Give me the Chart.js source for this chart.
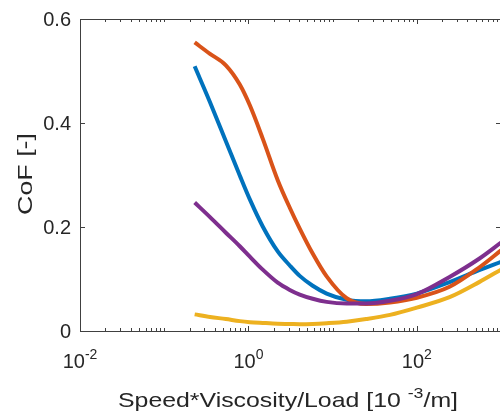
<!DOCTYPE html>
<html>
<head>
<meta charset="utf-8">
<script src="https://cdn.jsdelivr.net/npm/chart.js@4/dist/chart.umd.min.js"></script>
<style>
  html, body { margin: 0; padding: 0; background: #fff; overflow: hidden; }
  #plot { display: block; }
</style>
</head>
<body>
<canvas id="plot" width="503" height="417"></canvas>
<script>
// Speed*Viscosity/Load values
var xValues = [0.23, 0.35, 0.54, 0.79, 1.04, 1.48, 2.23, 3.1, 4.07, 5.8, 8.5, 14.7, 25, 48, 100, 245, 550, 1000];

// CoF for each curve
var cofBlue   = [0.509, 0.440, 0.365, 0.299, 0.253, 0.201, 0.153, 0.126, 0.106, 0.087, 0.072, 0.060, 0.057, 0.062, 0.072, 0.094, 0.117, 0.133];
var cofOrange = [0.555, 0.533, 0.511, 0.474, 0.434, 0.370, 0.290, 0.237, 0.197, 0.149, 0.105, 0.063, 0.052, 0.055, 0.064, 0.085, 0.122, 0.155];
var cofYellow = [0.032, 0.027, 0.023, 0.019, 0.017, 0.0155, 0.014, 0.0135, 0.013, 0.0135, 0.015, 0.018, 0.023, 0.031, 0.045, 0.065, 0.094, 0.118];
var cofPurple = [0.247, 0.219, 0.189, 0.163, 0.143, 0.118, 0.093, 0.079, 0.070, 0.062, 0.056, 0.053, 0.053, 0.058, 0.071, 0.104, 0.139, 0.170];

// axis ticks
var xMajorTicks = [0.01, 1, 100];
var xTickExponents = ['-2', '0', '2'];
var yTicks = [0, 0.2, 0.4, 0.6];
var yTickLabels = ['0', '0.2', '0.4', '0.6'];

var textColor = '#262626';
var axisColor = '#404040';
var fontFamily = '"Liberation Sans", Arial, Helvetica, sans-serif';

function toPoints(ys) {
    return xValues.map(function(x, i) { return { x: x, y: ys[i] }; });
}

function makeSet(label, ys, color, order) {
    return {
        label: label,
        data: toPoints(ys),
        borderColor: color,
        backgroundColor: color,
        borderWidth: 4,
        pointRadius: 0,
        cubicInterpolationMode: 'monotone',
        order: order
    };
}

// draws "10" with a superscript, centred on cx
function drawPower(ctx, base, sup, cx, baseline, size) {
    ctx.font = size + 'px ' + fontFamily;
    var wb = ctx.measureText(base).width;
    ctx.font = Math.round(size * 0.7) + 'px ' + fontFamily;
    var ws = ctx.measureText(sup).width;
    var left = cx - (wb + ws) / 2;
    ctx.textAlign = 'left';
    ctx.textBaseline = 'alphabetic';
    ctx.font = size + 'px ' + fontFamily;
    ctx.fillText(base, left, baseline);
    ctx.font = Math.round(size * 0.7) + 'px ' + fontFamily;
    ctx.fillText(sup, left + wb, baseline - size * 0.45);
}

var matlabAxes = {
    id: 'matlabAxes',
    afterDraw: function(chart) {
        var ctx = chart.ctx;
        var area = chart.chartArea;
        var xs = chart.scales.x;
        var ys = chart.scales.y;
        ctx.save();

        // box
        ctx.strokeStyle = axisColor;
        ctx.lineWidth = 1;
        ctx.beginPath();
        ctx.rect(Math.round(area.left) + 0.5, Math.round(area.top) + 0.5,
                 Math.round(area.right - area.left), Math.round(area.bottom - area.top));
        ctx.stroke();

        // x ticks (inward, bottom and top)
        ctx.beginPath();
        for (var e = -2; e < 3; e++) {
            for (var k = 1; k <= 9; k++) {
                var v = k * Math.pow(10, e);
                if (k === 1 && e === -2) continue;
                var px = Math.round(xs.getPixelForValue(v)) + 0.5;
                var len = (k === 1 && e % 2 === 0) ? 5 : 3;
                ctx.moveTo(px, area.bottom);
                ctx.lineTo(px, area.bottom - len);
                ctx.moveTo(px, area.top);
                ctx.lineTo(px, area.top + len);
            }
        }
        // y ticks (inward, left and right)
        yTicks.forEach(function(v) {
            var py = Math.round(ys.getPixelForValue(v)) + 0.5;
            ctx.moveTo(area.left, py);
            ctx.lineTo(area.left + 5, py);
            ctx.moveTo(area.right, py);
            ctx.lineTo(area.right - 5, py);
        });
        ctx.stroke();

        // tick labels
        ctx.fillStyle = textColor;
        ctx.font = '20px ' + fontFamily;
        ctx.textAlign = 'right';
        ctx.textBaseline = 'middle';
        yTicks.forEach(function(v, i) {
            ctx.fillText(yTickLabels[i], area.left - 9, ys.getPixelForValue(v) + 1);
        });
        xMajorTicks.forEach(function(v, i) {
            drawPower(ctx, '10', xTickExponents[i], xs.getPixelForValue(v), area.bottom + 37, 20);
        });

        // x title, a little wider than the plain font
        var t1 = 'Speed*Viscosity/Load [10 ';
        var t2 = '-3';
        var t3 = '/m]';
        ctx.font = '21px ' + fontFamily;
        var w1 = ctx.measureText(t1).width;
        var w3 = ctx.measureText(t3).width;
        ctx.font = '15px ' + fontFamily;
        var w2 = ctx.measureText(t2).width;
        var total = w1 + w2 + w3;
        var stretch = 340 / total;
        ctx.save();
        ctx.translate(118, 407);
        ctx.scale(stretch, 1);
        ctx.textAlign = 'left';
        ctx.textBaseline = 'alphabetic';
        ctx.font = '21px ' + fontFamily;
        ctx.fillText(t1, 0, 0);
        ctx.font = '15px ' + fontFamily;
        ctx.fillText(t2, w1, -9);
        ctx.font = '21px ' + fontFamily;
        ctx.fillText(t3, w1 + w2, 0);
        ctx.restore();

        // y title
        ctx.font = '21px ' + fontFamily;
        var wy = ctx.measureText('CoF [-]').width;
        ctx.translate(32, 174);
        ctx.rotate(-Math.PI / 2);
        ctx.scale(82 / wy, 1);
        ctx.textAlign = 'center';
        ctx.textBaseline = 'alphabetic';
        ctx.fillText('CoF [-]', 0, 0);
        ctx.restore();
    }
};

new Chart(document.getElementById('plot'), {
    type: 'line',
    data: {
        datasets: [
            makeSet('blue', cofBlue, '#0072BD', 4),
            makeSet('orange', cofOrange, '#D95319', 3),
            makeSet('yellow', cofYellow, '#EDB120', 2),
            makeSet('purple', cofPurple, '#7E2F8E', 1)
        ]
    },
    options: {
        responsive: false,
        animation: false,
        layout: { padding: { left: 80, top: 19, right: 2, bottom: 86 } },
        plugins: { legend: { display: false }, tooltip: { enabled: false } },
        scales: {
            x: { type: 'logarithmic', min: 0.01, max: 1000, display: false },
            y: { type: 'linear', min: 0, max: 0.6, display: false }
        }
    },
    plugins: [matlabAxes]
});
</script>
</body>
</html>
